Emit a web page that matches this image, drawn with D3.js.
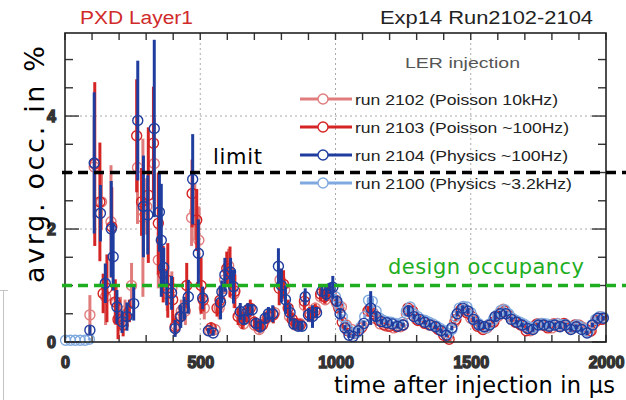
<!DOCTYPE html>
<html>
<head>
<meta charset="utf-8">
<title>PXD Layer1 occupancy after injection</title>
<style>
  body { margin: 0; background: #fff; }
  svg { display: block; }
  .frame { fill: none; stroke: #222; stroke-width: 1.6px; }
  .grid { stroke: #aaa; stroke-width: 1px; stroke-dasharray: 2,3; }
  .tick { stroke: #333; stroke-width: 1.4px; }
  .tick-label { font-family: "Liberation Sans", Arial, sans-serif; font-weight: bold; font-size: 16px; fill: #333; }
  .head { font-family: "Liberation Sans", Arial, sans-serif; font-size: 18px; }
  .legend-text { font-family: "Liberation Sans", Arial, sans-serif; font-size: 15.5px; fill: #222; }
  .latex { font-family: "DejaVu Sans", sans-serif; }
</style>
</head>
<body>
<svg id="chart" width="626" height="400"></svg>
<script src="https://d3js.org/d3.v7.min.js"></script>
<script>
// axis ticks
const xTicks = [0, 500, 1000, 1500, 2000];
const yTicks = [0, 2, 4];
const limitLevel = 3;
const designLevel = 1;

// [time in us, occupancy in %, error]
const run2100 = [
  [2, 0.03, 0], [20, 0.03, 0], [38, 0.03, 0], [56, 0.03, 0], [74, 0.03, 0], [90, 0.05, 0.02],
  [1000, 0.8, 0.05], [1012, 0.65, 0.05], [1025, 0.45, 0.04], [1038, 0.28, 0.03], [1052, 0.2, 0.03],
  [1066, 0.15, 0.03], [1080, 0.17, 0.03], [1094, 0.27, 0.03], [1108, 0.45, 0.04], [1122, 0.74, 0.05],
  [1136, 0.72, 0.05], [1150, 0.55, 0.04], [1164, 0.42, 0.03], [1178, 0.38, 0.03], [1192, 0.36, 0.03],
  [1206, 0.35, 0.03], [1220, 0.33, 0.03], [1234, 0.32, 0.03], [1248, 0.35, 0.03], [1262, 0.55, 0.04],
  [1276, 0.62, 0.04], [1290, 0.5, 0.04], [1304, 0.45, 0.03], [1318, 0.4, 0.03], [1332, 0.38, 0.03],
  [1346, 0.35, 0.03], [1360, 0.32, 0.03], [1374, 0.28, 0.03], [1388, 0.24, 0.03], [1402, 0.2, 0.03],
  [1416, 0.15, 0.03], [1430, 0.22, 0.03], [1444, 0.45, 0.04], [1458, 0.6, 0.04], [1472, 0.63, 0.04],
  [1486, 0.62, 0.04], [1500, 0.52, 0.04], [1514, 0.4, 0.03], [1528, 0.33, 0.03], [1542, 0.28, 0.03],
  [1556, 0.25, 0.03], [1570, 0.32, 0.03], [1584, 0.4, 0.03], [1598, 0.48, 0.04], [1612, 0.56, 0.04],
  [1626, 0.57, 0.04], [1640, 0.5, 0.04], [1654, 0.42, 0.03], [1668, 0.38, 0.03], [1682, 0.35, 0.03],
  [1696, 0.32, 0.03], [1710, 0.28, 0.03], [1724, 0.25, 0.03], [1738, 0.27, 0.03], [1752, 0.32, 0.03],
  [1766, 0.33, 0.03], [1780, 0.32, 0.03], [1794, 0.3, 0.03], [1808, 0.3, 0.03], [1822, 0.32, 0.03],
  [1836, 0.3, 0.03], [1850, 0.31, 0.03], [1864, 0.27, 0.03], [1878, 0.25, 0.03], [1892, 0.3, 0.03],
  [1906, 0.27, 0.03], [1920, 0.22, 0.03], [1934, 0.18, 0.03], [1948, 0.3, 0.03], [1962, 0.4, 0.03],
  [1976, 0.45, 0.03], [1990, 0.44, 0.03]
];

const run2102 = [
  [92, 0.48, 0.35], [108, 3.1, 0.9], [135, 2.48, 0.5], [150, 0.8, 0.5], [170, 2.13, 1.0],
  [190, 0.7, 0.3], [205, 0.5, 0.3], [222, 0.55, 0.2], [246, 1.0, 0.4], [268, 3.09, 1.0],
  [288, 2.2, 1.4], [302, 2.4, 0.5], [330, 3.16, 0.8], [345, 1.45, 0.5], [360, 1.2, 0.4],
  [378, 0.85, 0.3], [395, 0.95, 0.3], [410, 0.3, 0.15], [430, 0.55, 0.2], [445, 0.55, 0.25],
  [468, 2.2, 0.5], [480, 2.31, 0.5], [495, 1.8, 0.6], [515, 0.6, 0.2], [535, 0.2, 0.08],
  [555, 0.22, 0.08], [570, 0.6, 0.2], [590, 1.1, 0.25], [605, 1.35, 0.3], [625, 0.85, 0.25],
  [645, 0.5, 0.15], [660, 0.32, 0.1], [680, 0.45, 0.1], [700, 0.3, 0.1], [718, 0.22, 0.08],
  [735, 0.35, 0.1], [758, 0.45, 0.1], [775, 0.52, 0.1], [795, 1.1, 0.2], [812, 0.92, 0.2],
  [830, 0.45, 0.1], [850, 0.3, 0.08], [868, 0.33, 0.08], [885, 0.65, 0.12], [905, 0.45, 0.1],
  [925, 0.6, 0.1], [945, 0.8, 0.1], [962, 0.75, 0.1], [985, 0.85, 0.1], [1005, 0.68, 0.1],
  [1022, 0.62, 0.1], [1040, 0.3, 0.05], [1060, 0.22, 0.04], [1080, 0.18, 0.04], [1100, 0.28, 0.04],
  [1125, 0.58, 0.06], [1145, 0.42, 0.05], [1165, 0.32, 0.04], [1190, 0.28, 0.04], [1215, 0.25, 0.04],
  [1240, 0.27, 0.04], [1262, 0.5, 0.05], [1282, 0.52, 0.05], [1300, 0.4, 0.04], [1325, 0.35, 0.04],
  [1345, 0.3, 0.04], [1370, 0.26, 0.04], [1395, 0.18, 0.04], [1415, 0.1, 0.03], [1440, 0.35, 0.04],
  [1460, 0.55, 0.05], [1480, 0.55, 0.05], [1500, 0.42, 0.05], [1520, 0.32, 0.04], [1540, 0.25, 0.04],
  [1560, 0.25, 0.04], [1580, 0.35, 0.04], [1600, 0.45, 0.05], [1620, 0.58, 0.05], [1640, 0.48, 0.05],
  [1660, 0.38, 0.04], [1680, 0.32, 0.04], [1700, 0.27, 0.04], [1720, 0.2, 0.04], [1740, 0.3, 0.04],
  [1760, 0.33, 0.04], [1780, 0.28, 0.04], [1800, 0.25, 0.04], [1820, 0.33, 0.04], [1840, 0.3, 0.04],
  [1860, 0.28, 0.04], [1880, 0.25, 0.04], [1900, 0.3, 0.04], [1920, 0.25, 0.04], [1940, 0.18, 0.04],
  [1960, 0.35, 0.04], [1980, 0.45, 0.04]
];

const run2103 = [
  [110, 3.15, 1.45], [129, 2.48, 1.05], [141, 0.86, 0.35], [155, 0.95, 0.6], [173, 2.04, 0.7],
  [186, 0.71, 0.4], [196, 0.4, 0.35], [215, 0.3, 0.2], [238, 0.55, 0.2], [265, 3.65, 1.0],
  [283, 2.48, 0.6], [308, 2.6, 1.2], [327, 3.52, 1.0], [345, 2.1, 0.9], [363, 1.2, 0.5],
  [380, 1.09, 0.66], [398, 0.75, 0.4], [407, 0.27, 0.15], [425, 0.45, 0.2], [450, 1.0, 0.4],
  [470, 2.63, 0.6], [487, 2.16, 0.55], [503, 1.0, 0.5], [511, 0.74, 0.2], [540, 0.25, 0.1],
  [562, 0.6, 0.15], [573, 0.74, 0.25], [598, 1.3, 0.3], [610, 1.24, 0.45], [628, 0.9, 0.3],
  [640, 0.45, 0.15], [655, 0.38, 0.15], [670, 0.5, 0.15], [685, 0.6, 0.15], [700, 0.35, 0.1],
  [715, 0.28, 0.1], [730, 0.3, 0.1], [750, 0.45, 0.12], [770, 0.48, 0.15], [792, 0.95, 0.3],
  [808, 1.02, 0.25], [825, 0.6, 0.15], [840, 0.4, 0.12], [855, 0.32, 0.1], [870, 0.3, 0.1],
  [885, 0.72, 0.15], [905, 0.5, 0.12], [925, 0.55, 0.12], [945, 0.85, 0.12], [960, 0.8, 0.12],
  [975, 0.9, 0.12], [1000, 0.74, 0.1], [1012, 0.6, 0.1], [1025, 0.35, 0.08], [1045, 0.2, 0.05],
  [1070, 0.15, 0.04], [1095, 0.25, 0.04], [1120, 0.55, 0.08], [1140, 0.5, 0.06], [1160, 0.38, 0.05],
  [1180, 0.3, 0.04], [1200, 0.28, 0.04], [1225, 0.27, 0.04], [1250, 0.3, 0.04], [1268, 0.6, 0.06],
  [1285, 0.55, 0.05], [1305, 0.38, 0.04], [1330, 0.33, 0.04], [1355, 0.3, 0.04], [1380, 0.22, 0.04],
  [1400, 0.12, 0.03], [1420, 0.05, 0.03], [1445, 0.4, 0.05], [1465, 0.58, 0.05], [1485, 0.52, 0.05],
  [1505, 0.45, 0.05], [1525, 0.28, 0.04], [1545, 0.22, 0.04], [1565, 0.3, 0.04], [1585, 0.35, 0.04],
  [1605, 0.5, 0.05], [1625, 0.55, 0.05], [1645, 0.45, 0.05], [1665, 0.35, 0.04], [1685, 0.3, 0.04],
  [1705, 0.2, 0.04], [1725, 0.25, 0.04], [1745, 0.32, 0.04], [1765, 0.3, 0.04], [1785, 0.25, 0.04],
  [1805, 0.32, 0.04], [1825, 0.28, 0.04], [1845, 0.33, 0.04], [1865, 0.25, 0.04], [1885, 0.3, 0.04],
  [1905, 0.28, 0.04], [1925, 0.22, 0.04], [1945, 0.2, 0.04], [1965, 0.38, 0.04], [1985, 0.4, 0.04]
];

const run2104 = [
  [92, 0.21, 0.08], [108, 3.17, 1.25], [131, 2.28, 0.5], [149, 1.04, 0.35], [171, 2.0, 0.85],
  [178, 1.51, 0.6], [192, 0.62, 0.3], [211, 0.36, 0.2], [229, 0.45, 0.25], [254, 0.68, 0.3],
  [269, 3.92, 1.06], [290, 2.4, 0.9], [306, 2.25, 0.7], [330, 3.78, 1.57], [349, 2.3, 0.7],
  [356, 1.8, 1.0], [365, 1.32, 0.35], [376, 0.95, 0.3], [394, 0.87, 0.3], [407, 0.24, 0.15],
  [428, 0.45, 0.2], [440, 0.6, 0.2], [456, 0.8, 0.3], [472, 2.88, 0.8], [493, 1.57, 0.6],
  [509, 0.78, 0.2], [530, 0.2, 0.05], [548, 0.16, 0.05], [575, 0.7, 0.3], [580, 0.89, 0.2],
  [591, 1.19, 0.3], [612, 1.24, 0.25], [623, 0.98, 0.3], [648, 0.54, 0.15], [662, 0.4, 0.1],
  [676, 0.57, 0.12], [692, 0.57, 0.1], [706, 0.33, 0.1], [722, 0.27, 0.1], [740, 0.42, 0.1],
  [752, 0.5, 0.12], [768, 0.5, 0.15], [789, 1.34, 0.32], [800, 1.0, 0.3], [815, 0.75, 0.25],
  [832, 0.52, 0.15], [846, 0.32, 0.1], [862, 0.28, 0.08], [876, 0.28, 0.08], [888, 0.8, 0.15],
  [900, 0.48, 0.12], [915, 0.45, 0.2], [930, 0.52, 0.1], [950, 0.9, 0.1], [966, 0.85, 0.12],
  [980, 0.95, 0.1], [990, 0.97, 0.2], [1005, 0.72, 0.1], [1017, 0.5, 0.1], [1035, 0.25, 0.05],
  [1050, 0.12, 0.05], [1065, 0.1, 0.04], [1085, 0.2, 0.05], [1105, 0.33, 0.05], [1130, 0.6, 0.3],
  [1150, 0.45, 0.08], [1170, 0.36, 0.05], [1190, 0.34, 0.04], [1210, 0.32, 0.04], [1230, 0.28, 0.04],
  [1250, 0.3, 0.04], [1270, 0.55, 0.1], [1290, 0.45, 0.05], [1310, 0.4, 0.04], [1330, 0.35, 0.04],
  [1350, 0.3, 0.04], [1370, 0.27, 0.04], [1390, 0.2, 0.04], [1410, 0.12, 0.03], [1430, 0.25, 0.04],
  [1450, 0.5, 0.05], [1470, 0.6, 0.05], [1490, 0.55, 0.05], [1510, 0.4, 0.05], [1530, 0.3, 0.08],
  [1550, 0.27, 0.04], [1570, 0.3, 0.04], [1590, 0.45, 0.08], [1610, 0.5, 0.05], [1630, 0.5, 0.05],
  [1650, 0.4, 0.04], [1670, 0.35, 0.04], [1690, 0.3, 0.04], [1710, 0.24, 0.04], [1730, 0.22, 0.04],
  [1750, 0.3, 0.04], [1770, 0.3, 0.04], [1790, 0.28, 0.04], [1810, 0.3, 0.04], [1830, 0.27, 0.04],
  [1850, 0.3, 0.04], [1870, 0.22, 0.04], [1890, 0.27, 0.04], [1910, 0.22, 0.04], [1930, 0.16, 0.04],
  [1950, 0.3, 0.04], [1970, 0.42, 0.04], [1990, 0.42, 0.04]
];

const legendLabels = ["run 2102 (Poisson 10kHz)", "run 2103 (Poisson ~100Hz)",
                      "run 2104 (Physics ~100Hz)", "run 2100 (Physics ~3.2kHz)"];
const legendWidths = [203, 214, 213, 217];
const runColors = ["#e07c7c", "#d42424", "#1f3d9e", "#80aadf"];
const legendData = [run2102, run2103, run2104, run2100];
// the two red runs first, then the light blue one, dark blue on top
const drawOrder = [0, 1, 3, 2];

const svg = d3.select("#chart");
const plot = {left: 65, right: 606, top: 33, bottom: 342};

const xScale = d3.scaleLinear().domain([0, 2000]).range([plot.left, plot.right]);
const yScale = d3.scaleLinear().domain([0, 5.47]).range([plot.bottom, plot.top]);

// stray frame line of the neighbouring panel, bottom left
svg.append("path")
  .attr("d", "M0,290.5H8M3.5,290V400")
  .attr("fill", "none")
  .attr("stroke", "#c4c4c4")
  .attr("stroke-width", 1);

// grid
svg.append("g").selectAll("line")
  .data(xTicks.slice(1, -1))
  .enter().append("line")
  .attr("class", "grid")
  .attr("x1", d => xScale(d)).attr("x2", d => xScale(d))
  .attr("y1", plot.top).attr("y2", plot.bottom);
svg.append("g").selectAll("line")
  .data(yTicks.slice(1))
  .enter().append("line")
  .attr("class", "grid")
  .attr("x1", plot.left).attr("x2", plot.right)
  .attr("y1", d => yScale(d)).attr("y2", d => yScale(d));

// ticks on all four sides, pointing inwards
const xMinor = d3.range(0, 2001, 100);
const yMinor = d3.range(0, 5.47, 0.5);
const ticks = svg.append("g");
xMinor.forEach(t => {
  ticks.append("line").attr("class", "tick")
    .attr("x1", xScale(t)).attr("x2", xScale(t)).attr("y1", plot.bottom).attr("y2", plot.bottom - 7);
  ticks.append("line").attr("class", "tick")
    .attr("x1", xScale(t)).attr("x2", xScale(t)).attr("y1", plot.top).attr("y2", plot.top + 7);
});
yMinor.forEach(v => {
  const len = yTicks.includes(v) ? 14 : 8;
  ticks.append("line").attr("class", "tick")
    .attr("x1", plot.left).attr("x2", plot.left + len).attr("y1", yScale(v)).attr("y2", yScale(v));
  ticks.append("line").attr("class", "tick")
    .attr("x1", plot.right).attr("x2", plot.right - len).attr("y1", yScale(v)).attr("y2", yScale(v));
});

// tick labels through d3 axes, axis lines hidden
const xAxis = d3.axisBottom(xScale).tickValues(xTicks).tickSize(0).tickPadding(0).tickFormat(d3.format("d"));
const gx = svg.append("g").attr("transform", "translate(0," + (plot.bottom + 11) + ")").call(xAxis);
const yAxis = d3.axisLeft(yScale).tickValues(yTicks).tickSize(0).tickPadding(0).tickFormat(d3.format("d"));
const gy = svg.append("g").attr("transform", "translate(" + (plot.left - 9) + ",0)").call(yAxis);
[gx, gy].forEach(g => {
  g.select(".domain").remove();
  g.selectAll("text").attr("class", "tick-label").attr("fill", null);
});
gx.selectAll("text").attr("dy", "0.95em");
gy.selectAll("text").attr("dy", "0.36em");

// runs: error bars then circles
function drawRun(points, color, idx) {
  const g = svg.append("g").attr("class", "run-" + idx);
  g.selectAll("line")
    .data(points.filter(p => p[2] > 0.015))
    .enter().append("line")
    .attr("x1", d => xScale(d[0])).attr("x2", d => xScale(d[0]))
    .attr("y1", d => yScale(Math.max(0, d[1] - d[2])))
    .attr("y2", d => yScale(d[1] + d[2]))
    .attr("stroke", color)
    .attr("stroke-width", 3);
  g.selectAll("circle")
    .data(points)
    .enter().append("circle")
    .attr("cx", d => xScale(d[0]))
    .attr("cy", d => yScale(d[1]))
    .attr("r", 5)
    .attr("fill", "none")
    .attr("stroke", color)
    .attr("stroke-width", 1.4);
}
drawOrder.forEach(i => drawRun(legendData[i], runColors[i], i));

// frame
svg.append("rect").attr("class", "frame")
  .attr("x", plot.left).attr("y", plot.top)
  .attr("width", plot.right - plot.left).attr("height", plot.bottom - plot.top);

// limit and design occupancy
svg.append("line")
  .attr("x1", 62).attr("x2", 626)
  .attr("y1", yScale(limitLevel)).attr("y2", yScale(limitLevel))
  .attr("stroke", "#000").attr("stroke-width", 3.5).attr("stroke-dasharray", "10,6");
svg.append("line")
  .attr("x1", 62).attr("x2", 626)
  .attr("y1", yScale(designLevel)).attr("y2", yScale(designLevel))
  .attr("stroke", "#1fae1f").attr("stroke-width", 3.5).attr("stroke-dasharray", "10,6");

svg.append("text").attr("class", "latex")
  .attr("x", 213).attr("y", yScale(limitLevel) - 9)
  .attr("font-size", 21).attr("fill", "#000")
  .attr("textLength", 49)
  .text("limit");
svg.append("text").attr("class", "latex")
  .attr("x", 388).attr("y", yScale(designLevel) - 12)
  .attr("font-size", 21).attr("fill", "#1fae1f")
  .attr("textLength", 196)
  .text("design occupancy");

// legend
svg.append("text").attr("class", "legend-text")
  .attr("x", 405).attr("y", 67.5)
  .attr("fill", "#555").style("fill", "#555")
  .attr("font-size", 16)
  .attr("textLength", 115).attr("lengthAdjust", "spacingAndGlyphs")
  .text("LER injection");
legendLabels.forEach((label, i) => {
  const ly = 99 + i * 28;
  svg.append("line")
    .attr("x1", 300).attr("x2", 352).attr("y1", ly).attr("y2", ly)
    .attr("stroke", runColors[i]).attr("stroke-width", 3);
  svg.append("circle")
    .attr("cx", 323).attr("cy", ly).attr("r", 5)
    .attr("fill", "#fff").attr("stroke", runColors[i]).attr("stroke-width", 1.4);
  svg.append("text").attr("class", "legend-text")
    .attr("x", 355).attr("y", ly + 5.5)
    .attr("textLength", legendWidths[i]).attr("lengthAdjust", "spacingAndGlyphs")
    .text(label);
});

// titles
svg.append("text").attr("class", "head")
  .attr("x", 80).attr("y", 24)
  .attr("fill", "#d02a2a")
  .attr("textLength", 113).attr("lengthAdjust", "spacingAndGlyphs")
  .text("PXD Layer1");
svg.append("text").attr("class", "head")
  .attr("x", 380).attr("y", 24)
  .attr("fill", "#222")
  .attr("textLength", 213).attr("lengthAdjust", "spacingAndGlyphs")
  .text("Exp14 Run2102-2104");

// axis titles
svg.append("text").attr("class", "latex")
  .attr("transform", "translate(44,283) rotate(-90)")
  .attr("font-size", 27).attr("fill", "#000")
  .attr("textLength", 237)
  .text("avrg. occ. in %");
svg.append("text").attr("class", "latex")
  .attr("x", 334).attr("y", 393)
  .attr("font-size", 22.5).attr("fill", "#000")
  .attr("textLength", 281)
  .text("time after injection in µs");
</script>
</body>
</html>
